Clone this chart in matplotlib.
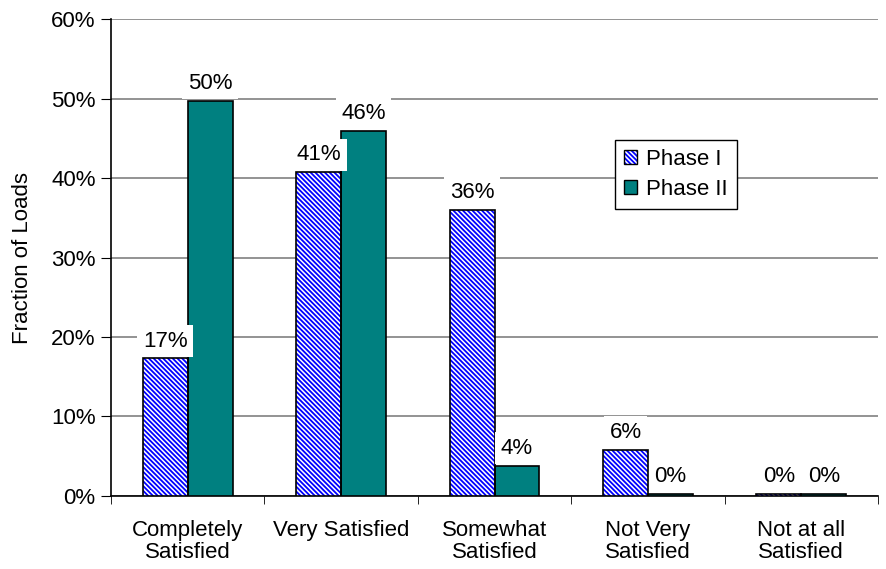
import matplotlib
matplotlib.use("Agg")
import matplotlib.pyplot as plt
import numpy as np
from matplotlib.ticker import FixedLocator, PercentFormatter
from matplotlib.patches import Patch
from matplotlib.legend_handler import HandlerTuple

plt.rcParams['font.family'] = ['Liberation Sans', 'DejaVu Sans']
plt.rcParams['hatch.linewidth'] = 1.3

categories = ["Completely\nSatisfied", "Very Satisfied", "Somewhat\nSatisfied",
              "Not Very\nSatisfied", "Not at all\nSatisfied"]
phase1 = [17.3, 40.7, 36.0, 5.8, 0.3]
phase2 = [49.7, 45.9, 3.8, 0.3, 0.2]
labels1 = ["17%", "41%", "36%", "6%", "0%"]
labels2 = ["50%", "46%", "4%", "0%", "0%"]
yticks = [0, 10, 20, 30, 40, 50, 60]

FS = 16
HATCH_BLUE = '#0000ff'
TEAL = '#008080'
HATCH = '\\\\\\\\\\\\\\'

fig = plt.figure(figsize=(8.86, 5.69), dpi=100)
ax = fig.add_axes([0.1253, 0.1283, 0.991 - 0.1253, 0.9666 - 0.1283])

x = np.arange(len(categories))
w = 0.293
# hatched layer (blue hatch on white)
ax.bar(x - w/2, phase1, w, facecolor='white', edgecolor=HATCH_BLUE,
       hatch=HATCH, linewidth=0, zorder=3)
# outline layer
b1 = ax.bar(x - w/2, phase1, w, facecolor='none', edgecolor='black',
            linewidth=1.2, zorder=3.1)
b2 = ax.bar(x + w/2, phase2, w, facecolor=TEAL, edgecolor='black',
            linewidth=1.2, zorder=3)

for bars, labs in ((b1, labels1), (b2, labels2)):
    for r, t in zip(bars, labs):
        ax.annotate(t, (r.get_x() + r.get_width()/2, r.get_height()),
                    xytext=(0, 5), textcoords='offset points',
                    ha='center', va='bottom', fontsize=FS,
                    bbox=dict(boxstyle='square,pad=0.25', facecolor='white', edgecolor='none'),
                    zorder=4)

ax.set_xlim(-0.5, len(categories) - 0.5)
ax.set_ylim(0, 60)
ax.yaxis.set_major_locator(FixedLocator(yticks))
ax.yaxis.set_major_formatter(PercentFormatter(decimals=0))
ax.grid(axis='y', color='#808080', linewidth=1.2, zorder=0)
ax.set_axisbelow(True)

ax.set_xticks(x)
ax.set_xticklabels(categories, fontsize=FS, linespacing=1.1)
ax.set_xticks(np.arange(len(categories) + 1) - 0.5, minor=True)
ax.tick_params(axis='x', which='major', length=0, pad=17)
ax.tick_params(axis='x', which='minor', length=6, color='black')
ax.tick_params(axis='y', length=7, labelsize=FS, pad=4)

for s in ('top', 'right'):
    ax.spines[s].set_visible(False)
ax.spines['left'].set_linewidth(1.2)
ax.spines['bottom'].set_linewidth(1.2)

ax.set_ylabel('Fraction of Loads', fontsize=FS, labelpad=13)

h1 = (Patch(facecolor='white', edgecolor=HATCH_BLUE, hatch=HATCH, linewidth=0),
      Patch(facecolor='none', edgecolor='black', linewidth=1.0))
h2 = Patch(facecolor=TEAL, edgecolor='black', linewidth=1.0)
leg = ax.legend([h1, h2], ['Phase I', 'Phase II'],
                handler_map={tuple: HandlerTuple(ndivide=1, pad=0)},
                loc='upper left', bbox_to_anchor=(0.657, 0.746), fontsize=FS,
                frameon=True, fancybox=False, edgecolor='black', framealpha=1,
                handlelength=0.6, handleheight=0.6, handletextpad=0.4,
                borderpad=0.4, labelspacing=0.4, borderaxespad=0)
leg.get_frame().set_linewidth(1.0)

fig.savefig('out.png', dpi=100)
